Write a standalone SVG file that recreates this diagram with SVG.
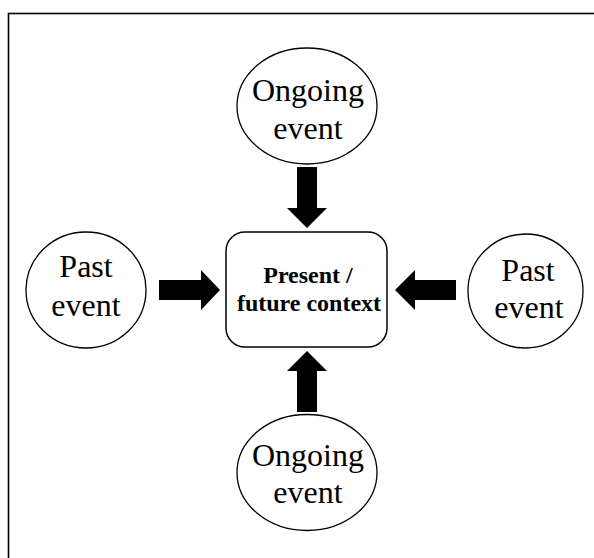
<svg xmlns="http://www.w3.org/2000/svg" width="594" height="558" viewBox="0 0 594 558">
  <style>
    .event { fill: #ffffff; stroke: #000000; stroke-width: 1.3; }
    .ctx { fill: #ffffff; stroke: #000000; stroke-width: 1.5; }
    .lbl { font-family: "Liberation Serif", "Times New Roman", serif; font-size: 32px; fill: #000000; text-anchor: middle; }
    .ctx-lbl { font-family: "Liberation Serif", "Times New Roman", serif; font-size: 24px; font-weight: bold; fill: #000000; text-anchor: middle; }
    .arrow { fill: #000000; stroke: none; }
  </style>

  <!-- outer frame (continues past the canvas edges) -->
  <rect x="8.5" y="13.5" width="620" height="600" fill="#ffffff" stroke="#000000" stroke-width="1.6"/>

  <!-- block arrows pointing into the context box -->
  <g id="connectors">
    <!-- from top ongoing event -->
    <polygon class="arrow" points="297,167 317,167 317,208 327,208 307,228 287,208 297,208"/>
    <!-- from bottom ongoing event -->
    <polygon class="arrow" points="297,412 317,412 317,371 327,371 307,351 287,371 297,371"/>
    <!-- from left past event -->
    <polygon class="arrow" points="159,280 201,280 201,270 220,290 201,310 201,300 159,300"/>
    <!-- from right past event -->
    <polygon class="arrow" points="456,280 415,280 415,270 395,290 415,310 415,300 456,300"/>
  </g>

  <g id="ongoing-top">
    <ellipse class="event" cx="307" cy="106" rx="70" ry="58"/>
    <text class="lbl" x="308" y="101">Ongoing</text>
    <text class="lbl" x="308" y="139">event</text>
  </g>

  <g id="past-left">
    <ellipse class="event" cx="86" cy="290" rx="60" ry="58"/>
    <text class="lbl" x="86" y="277">Past</text>
    <text class="lbl" x="86" y="316">event</text>
  </g>

  <g id="context">
    <rect class="ctx" x="226" y="232" width="161" height="115" rx="19" ry="19"/>
    <text class="ctx-lbl" x="308" y="283">Present /</text>
    <text class="ctx-lbl" x="309" y="311">future context</text>
  </g>

  <g id="past-right">
    <ellipse class="event" cx="525.5" cy="291" rx="57.5" ry="57"/>
    <text class="lbl" x="528" y="281">Past</text>
    <text class="lbl" x="529" y="318">event</text>
  </g>

  <g id="ongoing-bottom">
    <ellipse class="event" cx="307" cy="472.5" rx="70" ry="58"/>
    <text class="lbl" x="308" y="466">Ongoing</text>
    <text class="lbl" x="308" y="503">event</text>
  </g>
</svg>
